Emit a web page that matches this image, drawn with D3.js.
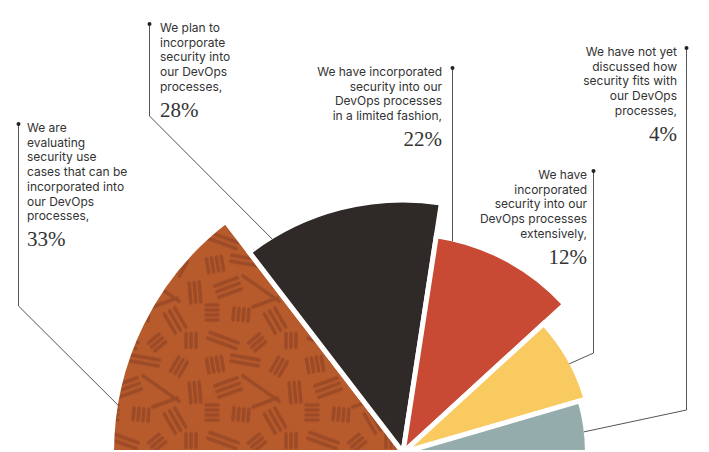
<!DOCTYPE html>
<html>
<head>
<meta charset="utf-8">
<script src="https://cdn.jsdelivr.net/npm/d3@7"></script>
<style>
  html, body { margin: 0; padding: 0; background: #fff; }
  svg { display: block; }
</style>
</head>
<body>
<div id="chart"></div>
<script>
'use strict';

// survey answers, left to right around the half pie
var categories = ["evaluating", "planning", "limited", "extensively", "not discussed"];
var values = [33, 28, 22, 12, 4];
var labelLines = [
  ["We are", "evaluating", "security use", "cases that can be", "incorporated into", "our DevOps", "processes,"],
  ["We plan to", "incorporate", "security into", "our DevOps", "processes,"],
  ["We have incorporated", "security into our", "DevOps processes", "in a limited fashion,"],
  ["We have", "incorporated", "security into our", "DevOps processes", "extensively,"],
  ["We have not yet", "discussed how", "security fits with", "our DevOps", "processes,"]
];

var colors = ["url(#bark)", "#2f2a27", "#c84a35", "#f8ca60", "#94adac"];

// where each callout sits (t = spot along the slice where the leader lands)
var callouts = [
  {x: 27,  top: 123, anchor: "start", lineX: 18.5,  bendY: 306, t: 0.18},
  {x: 160, top: 23,  anchor: "start", lineX: 149.5, bendY: 116, t: 0.13},
  {x: 442, top: 67,  anchor: "end",   lineX: 452.5, bendY: null},
  {x: 587, top: 170, anchor: "end",   lineX: 593.5, bendY: 353, t: 0.55},
  {x: 677, top: 47,  anchor: "end",   lineX: 686.5, bendY: 410, t: 0.6}
];

var width = 709, height = 452,
    cx = 403, cy = 452.5,
    gap = 5,
    lineH = 14.7;

var data = values.map(function(v, i) {
  return {name: categories[i], value: v, lines: labelLines[i]};
});

var pie = d3.pie()
  .sort(null)
  .value(d => d.value + 9)
  .startAngle(-Math.PI / 2)
  .endAngle(Math.PI / 2);

var radius = d3.scalePow().exponent(2.75)
  .domain([4, 33])
  .range([184.5, 291.5]);

var arc = d3.arc()
  .innerRadius(0)
  .outerRadius(d => radius(d.data.value));

var arcs = pie(data);

var svg = d3.select("#chart").append("svg")
  .attr("width", width)
  .attr("height", height)
  .attr("viewBox", [0, 0, width, height]);

// textured brown fill
var tile = 100;
var defs = svg.append("defs");
var bark = defs.append("pattern")
  .attr("id", "bark")
  .attr("patternUnits", "userSpaceOnUse")
  .attr("width", tile).attr("height", tile);
bark.append("rect").attr("width", tile).attr("height", tile).attr("fill", "#b75a2c");

// clusters of streaks: x, y, angle, count, length, spacing
var streaks = [
  [12, 12, 80, 4, 14, 5],
  [42, 8, 10, 2, 28, 6],
  [76, 14, 120, 3, 16, 5],
  [92, 40, 85, 3, 20, 5],
  [25, 35, 160, 3, 24, 6],
  [58, 36, 35, 1, 44, 0],
  [9, 60, 0, 4, 12, 5],
  [38, 62, 95, 4, 12, 5],
  [72, 68, 60, 3, 22, 6],
  [20, 88, 20, 2, 30, 6],
  [54, 90, 140, 3, 14, 5],
  [88, 88, 90, 3, 14, 5],
  [62, 50, -20, 1, 26, 0]
];
streaks.forEach(function(s) {
  var a = s[2] * Math.PI / 180,
      ux = Math.cos(a), uy = Math.sin(a);
  for (var k = 0; k < s[3]; k++) {
    var off = (k - (s[3] - 1) / 2) * s[5];
    var mx = s[0] - uy * off, my = s[1] + ux * off;
    bark.append("line")
      .attr("x1", mx - ux * s[4] / 2).attr("y1", my - uy * s[4] / 2)
      .attr("x2", mx + ux * s[4] / 2).attr("y2", my + uy * s[4] / 2)
      .attr("stroke", "#9d4b27")
      .attr("stroke-width", 3.6)
      .attr("stroke-linecap", "round");
  }
});

svg.append("g")
  .attr("transform", "translate(" + cx + "," + cy + ")")
  .selectAll("path")
  .data(arcs)
  .join("path")
    .attr("d", arc)
    .attr("fill", (d, i) => colors[i])
    .attr("stroke", "#fff")
    .attr("stroke-width", gap)
    .attr("stroke-linejoin", "miter");

// leader end point on the visible edge of each slice
function leaderEnd(d, c) {
  var R = radius(d.data.value) - gap / 2;
  if (c.bendY === null) {
    var dx = c.lineX - cx;
    return [c.lineX, cy - Math.sqrt(R * R - dx * dx)];
  }
  var a = d.startAngle + c.t * (d.endAngle - d.startAngle);
  return [cx + R * Math.sin(a), cy - R * Math.cos(a)];
}

var labels = svg.append("g")
  .selectAll("g")
  .data(arcs)
  .join("g");

labels.append("path")
  .attr("fill", "none")
  .attr("stroke", "#555")
  .attr("stroke-width", 1)
  .attr("d", function(d, i) {
    var c = callouts[i], p = d3.path(), e = leaderEnd(d, c);
    p.moveTo(c.lineX, c.top + 1);
    if (c.bendY !== null) p.lineTo(c.lineX, c.bendY);
    p.lineTo(e[0], e[1]);
    return p.toString();
  });

labels.append("circle")
  .attr("cx", (d, i) => callouts[i].lineX)
  .attr("cy", (d, i) => callouts[i].top + 1)
  .attr("r", 2)
  .attr("fill", "#222");

labels.append("text")
  .attr("font-family", "Inter, sans-serif")
  .attr("font-size", "12px")
  .attr("fill", "#333")
  .attr("text-anchor", (d, i) => callouts[i].anchor)
  .selectAll("tspan")
  .data((d, i) => d.data.lines.map(l => ({line: l, c: callouts[i]})))
  .join("tspan")
    .attr("x", d => d.c.x)
    .attr("y", (d, j) => d.c.top + 9 + j * lineH)
    .text(d => d.line);

labels.append("text")
  .attr("font-family", "'Liberation Serif', serif")
  .attr("font-size", "21px")
  .attr("fill", "#333")
  .attr("text-anchor", (d, i) => callouts[i].anchor)
  .attr("x", (d, i) => callouts[i].x)
  .attr("y", (d, i) => callouts[i].top + 9 + (d.data.lines.length - 1) * lineH + 26)
  .text(d => d.data.value + "%");
</script>
</body>
</html>
